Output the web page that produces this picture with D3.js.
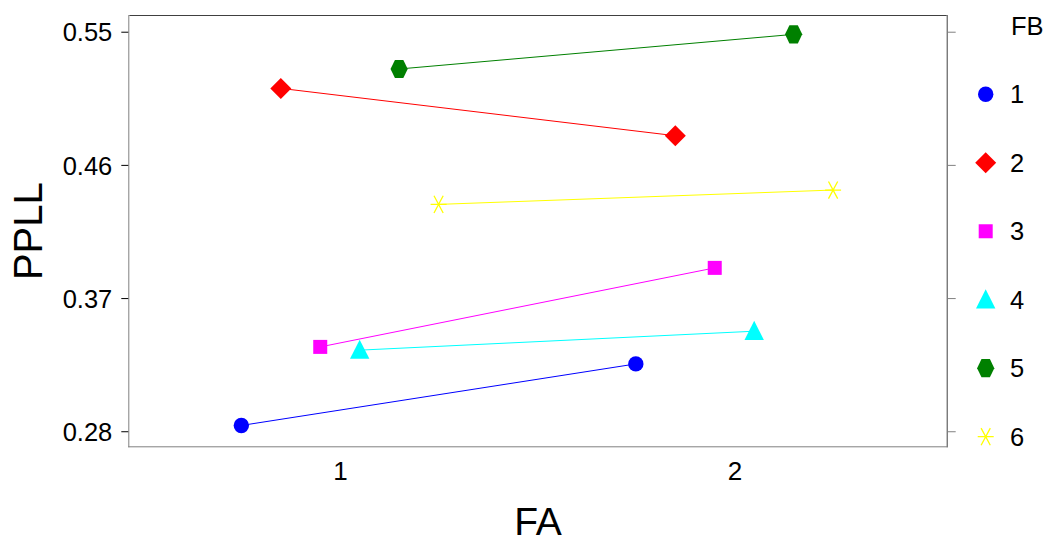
<!DOCTYPE html>
<html><head><meta charset="utf-8">
<script src="https://cdn.jsdelivr.net/npm/d3@7"></script>
<style>body{margin:0;background:#fff}svg{display:block}text{font-family:"Liberation Sans",Arial,sans-serif;fill:#000}</style>
</head><body>
<script>
const categories = [1, 2];
const groups = ["1", "2", "3", "4", "5", "6"];
const seriesFB1 = [0.2839, 0.3255];
const seriesFB2 = [0.5117, 0.4797];
const seriesFB3 = [0.3370, 0.3904];
const seriesFB4 = [0.3348, 0.3476];
const seriesFB5 = [0.5248, 0.5482];
const seriesFB6 = [0.4333, 0.4430];
const yTicks = [0.28, 0.37, 0.46, 0.55];
const xTicks = [1, 2];
const dodge = [-0.25, -0.15, -0.05, 0.05, 0.15, 0.25];
const colors = ["#0000ff", "#ff0000", "#ff00ff", "#00ffff", "#008000", "#ffff00"];
const shapes = ["circle", "diamond", "square", "triangle", "hexagon", "star"];

const series = [seriesFB1, seriesFB2, seriesFB3, seriesFB4, seriesFB5, seriesFB6];

const W = 1048, H = 543;
const L = 129.3, R = 946.7, T = 15, B = 447.3;
const svg = d3.select("body").append("svg").attr("width", W).attr("height", H);

const x = d3.scaleLinear().domain([0.466, 2.538]).range([L, R]);
const y = d3.scaleLinear().domain([0.26915, 0.56129]).range([B, T]);

// frame
svg.append("line").attr("x1", L).attr("x2", R).attr("y1", T + 0.5).attr("y2", T + 0.5).attr("stroke", "#404040");
svg.append("line").attr("x1", R + 0.5).attr("x2", R + 0.5).attr("y1", T).attr("y2", B).attr("stroke", "#404040");
svg.append("line").attr("x1", L - 0.5).attr("x2", L - 0.5).attr("y1", T).attr("y2", B).attr("stroke", "#808080");
svg.append("line").attr("x1", L - 1).attr("x2", R + 1).attr("y1", B - 0.5).attr("y2", B - 0.5).attr("stroke", "#808080");

// left axis
const yl = svg.append("g").attr("transform", `translate(${L - 1},0)`)
  .call(d3.axisLeft(y).tickValues(yTicks).tickFormat(d3.format(".2f")).tickSize(7).tickPadding(9));
yl.select(".domain").remove();
yl.selectAll("line").attr("stroke", "#000");
yl.selectAll("text").style("font-size", "25.5px").attr("dy", "0.36em");

// right axis ticks (no labels)
const yr = svg.append("g").attr("transform", `translate(${R + 1},0)`)
  .call(d3.axisRight(y).tickValues(yTicks).tickFormat("").tickSize(8));
yr.select(".domain").remove();
yr.selectAll("line").attr("stroke", "#808080");

// bottom axis labels
const xa = svg.append("g").attr("transform", `translate(0,${B})`)
  .call(d3.axisBottom(x).tickValues(xTicks).tickFormat(d3.format("d")).tickSize(0).tickPadding(14));
xa.select(".domain").remove();
xa.selectAll("text").style("font-size", "26px").attr("dy", "0.71em");

// titles
svg.append("text").attr("x", (L + R) / 2).attr("y", 535).attr("text-anchor", "middle").style("font-size", "39px").text("FA");
svg.append("text").attr("transform", `translate(42,${(T + B) / 2}) rotate(-90)`).attr("text-anchor", "middle").style("font-size", "40px").text("PPLL");

function drawShape(g, shape, color) {
  if (shape === "circle") g.append("circle").attr("r", 7.7).attr("fill", color);
  else if (shape === "diamond") g.append("path").attr("d", "M0,-10.5L10.5,0L0,10.5L-10.5,0Z").attr("fill", color);
  else if (shape === "square") g.append("rect").attr("x", -7).attr("y", -7).attr("width", 14).attr("height", 14).attr("fill", color);
  else if (shape === "triangle") g.append("path").attr("d", "M0,-10.5L9.7,8.7L-9.7,8.7Z").attr("fill", color);
  else if (shape === "hexagon") g.append("path").attr("d", "M-8.6,0L-4.2,-9.1L4.2,-9.1L8.6,0L4.2,9.1L-4.2,9.1Z").attr("fill", color);
  else if (shape === "star") g.append("path").attr("d", "M-8,0L8,0M-4.6,-8.6L4.6,8.6M-4.6,8.6L4.6,-8.6").attr("stroke", color).attr("stroke-width", 1.3).attr("fill", "none");
}

const line = d3.line();
series.forEach((vals, i) => {
  const pts = vals.map((v, j) => [x(categories[j] + dodge[i]), y(v)]);
  svg.append("path").attr("d", line(pts)).attr("stroke", colors[i]).attr("stroke-width", 1).attr("fill", "none");
  pts.forEach(p => drawShape(svg.append("g").attr("transform", `translate(${p[0]},${p[1]})`), shapes[i], colors[i]));
});

// legend
svg.append("text").attr("x", 1011).attr("y", 35).style("font-size", "25.5px").text("FB");
const ly = d3.scalePoint().domain(groups).range([94.3, 436.7]);
groups.forEach((gname, i) => {
  drawShape(svg.append("g").attr("transform", `translate(985.7,${ly(gname)})`), shapes[i], colors[i]);
  svg.append("text").attr("x", 1010).attr("y", ly(gname)).attr("dy", "0.36em").style("font-size", "25.5px").text(gname);
});
</script>
</body></html>
